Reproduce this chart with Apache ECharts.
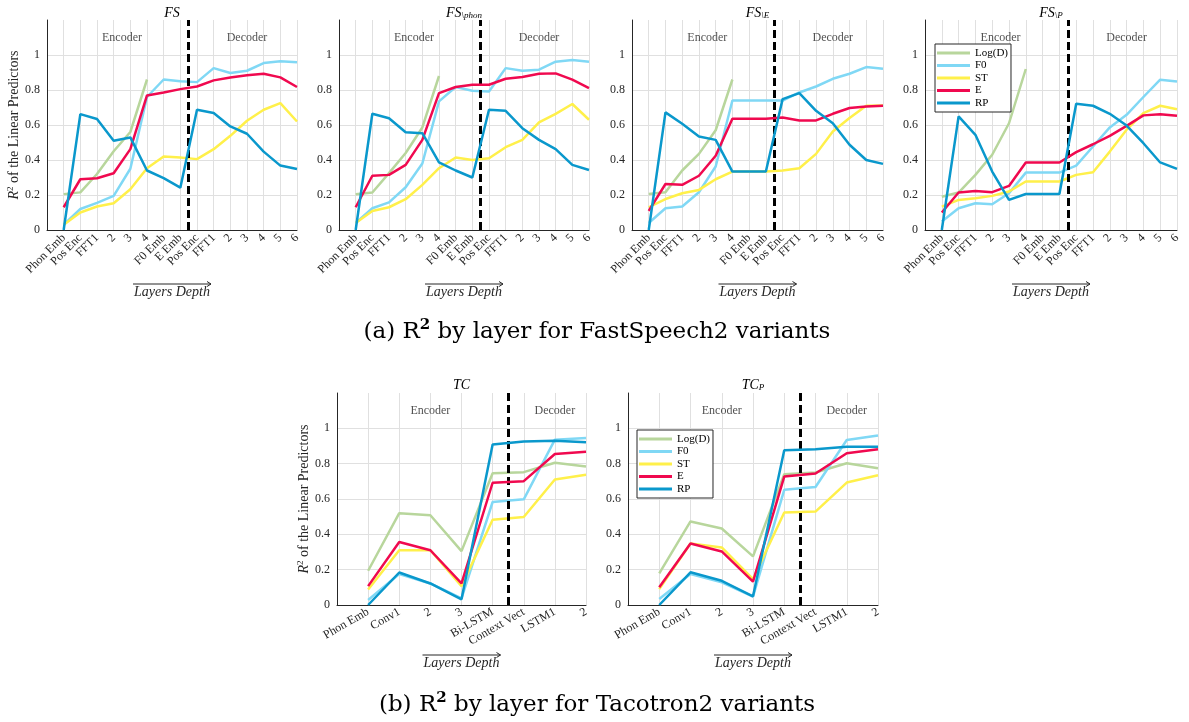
<!DOCTYPE html>
<html>
<head>
<meta charset="utf-8">
<script src="https://cdn.jsdelivr.net/npm/echarts@6/dist/echarts.min.js"></script>
<style>html,body{margin:0;padding:0;background:#fff;}#c{width:1189px;height:722px;}</style>
</head>
<body>
<div id="c"></div>
<script>
// ---------- categories ----------
const FS_CATS = ['Phon Emb','Pos Enc','FFT1','2','3','4','F0 Emb','E Emb','Pos Enc','FFT1','2','3','4','5','6'];
const TC_CATS = ['Phon Emb','Conv1','2','3','Bi-LSTM','Context Vect','LSTM1','2'];
const SERIES_NAMES = ['Log(D)','F0','ST','E','RP'];

// ---------- FS ----------
const FS_LOGD = [0.205,0.215,0.32,0.45,0.56,0.86,null,null,null,null,null,null,null,null,null];
const FS_F0   = [0.03,0.12,0.155,0.195,0.35,0.76,0.86,0.85,0.845,0.925,0.897,0.91,0.954,0.964,0.958];
const FS_ST   = [0.03,0.10,0.134,0.153,0.233,0.353,0.42,0.414,0.405,0.462,0.538,0.624,0.687,0.725,0.62];
const FS_E    = [0.13,0.29,0.296,0.324,0.462,0.769,0.786,0.805,0.82,0.855,0.872,0.884,0.893,0.872,0.817];
const FS_RP   = [0,0.662,0.634,0.51,0.529,0.34,0.296,0.242,0.687,0.668,0.592,0.55,0.448,0.368,0.349];

// ---------- FS \phon ----------
const FSPHON_LOGD = [0.204,0.214,0.325,0.44,0.586,0.88,null,null,null,null,null,null,null,null,null];
const FSPHON_F0   = [0.04,0.124,0.158,0.244,0.38,0.735,0.817,0.796,0.792,0.925,0.91,0.916,0.962,0.971,0.962];
const FSPHON_ST   = [0.04,0.109,0.13,0.176,0.258,0.353,0.414,0.40,0.41,0.473,0.515,0.615,0.664,0.72,0.63];
const FSPHON_E    = [0.13,0.31,0.315,0.372,0.515,0.782,0.817,0.83,0.83,0.864,0.874,0.893,0.895,0.859,0.811];
const FSPHON_RP   = [0,0.664,0.639,0.559,0.553,0.387,0.34,0.30,0.687,0.681,0.582,0.515,0.462,0.372,0.343];

// ---------- FS \E ----------
const FSE_LOGD = [0.206,0.216,0.34,0.435,0.57,0.86,null,null,null,null,null,null,null,null,null];
const FSE_F0   = [0.04,0.124,0.134,0.216,0.363,0.74,0.74,0.74,0.74,0.786,0.82,0.864,0.893,0.931,0.922];
const FSE_ST   = [0.13,0.177,0.21,0.229,0.29,0.334,0.334,0.334,0.34,0.353,0.435,0.563,0.64,0.71,0.712];
const FSE_E    = [0.109,0.263,0.258,0.31,0.424,0.636,0.636,0.636,0.643,0.626,0.626,0.664,0.697,0.706,0.71];
const FSE_RP   = [0,0.672,0.607,0.534,0.515,0.334,0.334,0.334,0.748,0.782,0.681,0.61,0.487,0.40,0.378];

// ---------- FS \P ----------
const FSP_LOGD = [0.19,0.214,0.315,0.43,0.61,0.92,null,null,null,null,null,null,null,null,null];
const FSP_F0   = [0.048,0.124,0.153,0.147,0.21,0.328,0.328,0.328,0.368,0.477,0.586,0.658,0.76,0.859,0.849];
const FSP_ST   = [0.134,0.172,0.181,0.195,0.22,0.277,0.277,0.277,0.315,0.33,0.448,0.573,0.668,0.71,0.69];
const FSP_E    = [0.10,0.214,0.223,0.216,0.252,0.386,0.386,0.386,0.445,0.49,0.538,0.595,0.655,0.662,0.653];
const FSP_RP   = [0,0.649,0.544,0.334,0.172,0.206,0.206,0.206,0.721,0.71,0.664,0.597,0.496,0.386,0.349];

// ---------- TC ----------
const TC_LOGD = [0.194,0.52,0.508,0.305,0.746,0.752,0.805,0.784];
const TC_F0   = [0.028,0.175,0.122,0.038,0.583,0.598,0.936,0.945];
const TC_ST   = [0.088,0.31,0.31,0.107,0.483,0.498,0.71,0.737];
const TC_E    = [0.107,0.357,0.31,0.122,0.692,0.701,0.855,0.868];
const TC_RP   = [0,0.184,0.122,0.032,0.908,0.925,0.93,0.921];

// ---------- TC_P ----------
const TCP_LOGD = [0.179,0.473,0.433,0.275,0.74,0.75,0.802,0.774];
const TCP_F0   = [0.034,0.175,0.128,0.047,0.652,0.668,0.934,0.96];
const TCP_ST   = [0.09,0.348,0.326,0.147,0.524,0.529,0.693,0.734];
const TCP_E    = [0.10,0.348,0.303,0.132,0.727,0.744,0.859,0.881];
const TCP_RP   = [0,0.185,0.137,0.049,0.876,0.881,0.896,0.896];

// ---------- styles / layout ----------
const COLORS = ['#b8d69c','#80d8f5','#fff04a','#f0094f','#0a98cc'];
const SERIF = 'Liberation Serif';
const INK = '#262626';

const panels = [
  {t:'FS', s:'', cats:FS_CATS, data:[FS_LOGD,FS_F0,FS_ST,FS_E,FS_RP], grid:{left:47,top:20,width:250,height:210}, split:7.5, enc:3.5, dec:11, rot:45, yName:true, legend:null, titleTop:2, nameGap:55, arrowY:284},
  {t:'FS', s:'\\phon', cats:FS_CATS, data:[FSPHON_LOGD,FSPHON_F0,FSPHON_ST,FSPHON_E,FSPHON_RP], grid:{left:339,top:20,width:250,height:210}, split:7.5, enc:3.5, dec:11, rot:45, yName:false, legend:null, titleTop:2, nameGap:55, arrowY:284},
  {t:'FS', s:'\\E', cats:FS_CATS, data:[FSE_LOGD,FSE_F0,FSE_ST,FSE_E,FSE_RP], grid:{left:632,top:20,width:251,height:210}, split:7.5, enc:3.5, dec:11, rot:45, yName:false, legend:null, titleTop:2, nameGap:55, arrowY:284},
  {t:'FS', s:'\\P', cats:FS_CATS, data:[FSP_LOGD,FSP_F0,FSP_ST,FSP_E,FSP_RP], grid:{left:925,top:20,width:252,height:210}, split:7.5, enc:3.5, dec:11, rot:45, yName:false, legend:{left:935,top:44}, titleTop:2, nameGap:55, arrowY:284},
  {t:'TC', s:'', cats:TC_CATS, data:[TC_LOGD,TC_F0,TC_ST,TC_E,TC_RP], grid:{left:337,top:393,width:249,height:212}, split:4.5, enc:2, dec:6, rot:30, yName:true, legend:null, titleTop:374, nameGap:51, arrowY:655},
  {t:'TC', s:'P', cats:TC_CATS, data:[TCP_LOGD,TCP_F0,TCP_ST,TCP_E,TCP_RP], grid:{left:628,top:393,width:250,height:212}, split:4.5, enc:2, dec:6, rot:30, yName:false, legend:{left:637,top:430}, titleTop:374, nameGap:51, arrowY:655}
];

const option = {
  animation:false,
  backgroundColor:'#fff',
  grid:[], xAxis:[], yAxis:[], series:[], title:[], legend:[], graphic:[]
};

panels.forEach((p, i) => {
  option.grid.push(Object.assign({containLabel:false}, p.grid));
  const cx = p.grid.left + p.grid.width / 2;
  option.xAxis.push({
    gridIndex:i, type:'value', min:-1, max:p.cats.length - 1, interval:1,
    axisLine:{show:true, onZero:false, lineStyle:{color:INK, width:1}},
    axisTick:{show:false},
    axisLabel:{
      formatter:(v) => { const k = Math.round(v); return k >= 0 && k < p.cats.length ? p.cats[k] : ''; },
      rotate:p.rot, fontFamily:SERIF, fontSize:12, color:INK, margin:6
    },
    splitLine:{show:true, lineStyle:{color:'#e0e0e0', width:1}},
    name:'Layers Depth', nameLocation:'middle', nameGap:p.nameGap,
    nameTextStyle:{fontFamily:SERIF, fontStyle:'italic', fontSize:14, color:INK}
  });
  option.yAxis.push({
    gridIndex:i, type:'value', min:0, max:1.2, interval:0.2,
    axisLine:{show:true, onZero:false, lineStyle:{color:INK, width:1}},
    axisTick:{show:false},
    axisLabel:{
      formatter:(v) => v > 1.05 ? '' : String(+v.toFixed(1)),
      fontFamily:SERIF, fontSize:12, color:INK, margin:7
    },
    splitLine:{show:true, showMaxLine:false, lineStyle:{color:'#e0e0e0', width:1}},
    name: p.yName ? '{i|R}{s|2} of the Linear Predictors' : '',
    nameLocation:'middle', nameGap:22, nameRotate:90,
    nameTextStyle:{fontFamily:SERIF, fontSize:14, color:INK,
      rich:{i:{fontFamily:SERIF, fontStyle:'italic', fontSize:14, color:INK, lineHeight:16},
            s:{fontFamily:SERIF, fontSize:9, color:INK, verticalAlign:'top', lineHeight:16}}}
  });
  p.data.forEach((arr, k) => {
    option.series.push({
      type:'line', name:SERIES_NAMES[k], xAxisIndex:i, yAxisIndex:i,
      data:arr.map((v, j) => [j, v]).filter(d => d[1] !== null),
      showSymbol:false, symbol:'none',
      lineStyle:{width:2.5, color:COLORS[k]},
      itemStyle:{color:COLORS[k]},
      z:2 + k
    });
  });
  option.series.push({
    type:'scatter', name:'_ann' + i, xAxisIndex:i, yAxisIndex:i, silent:true,
    symbolSize:1, itemStyle:{color:'rgba(0,0,0,0)'},
    data:[[p.enc, 1.1, 'Encoder'], [p.dec, 1.1, 'Decoder']],
    label:{show:true, position:'inside', formatter:(q) => q.data[2], fontFamily:SERIF, fontSize:12, color:INK},
    markLine:{silent:true, symbol:['none','none'], label:{show:false},
      lineStyle:{type:[8,4], width:3, color:'#000'},
      data:[{xAxis:p.split}]},
    z:10
  });
  option.title.push({
    text: p.s ? '{m|' + p.t + '}{s|' + p.s + '}' : '{m|' + p.t + '}',
    left:cx, top:p.titleTop, textAlign:'center', padding:0,
    textStyle:{fontWeight:'normal', rich:{
      m:{fontFamily:SERIF, fontStyle:'italic', fontWeight:'normal', fontSize:14, color:'#000', lineHeight:18, verticalAlign:'bottom'},
      s:{fontFamily:SERIF, fontStyle:'italic', fontWeight:'normal', fontSize:9, color:'#000', lineHeight:12, verticalAlign:'bottom'}
    }}
  });
  if (p.legend) {
    option.legend.push({
      show:true, orient:'vertical', left:p.legend.left, top:p.legend.top,
      data:SERIES_NAMES, icon:'rect', itemWidth:33, itemHeight:3, itemGap:0.5,
      padding:[3,3,3,2], borderColor:INK, borderWidth:1, backgroundColor:'#fff',
      selectedMode:false,
      textStyle:{fontFamily:SERIF, fontSize:11, color:'#000', lineHeight:12}, z:20
    });
  }
  const ax = cx, ay = p.arrowY;
  option.graphic.push({
    type:'group', children:[
      {type:'line', shape:{x1:ax - 39, y1:ay, x2:ax + 39, y2:ay}, style:{stroke:INK, lineWidth:1}},
      {type:'polyline', shape:{points:[[ax + 35, ay - 2.5],[ax + 39, ay],[ax + 35, ay + 2.5]]}, style:{stroke:INK, lineWidth:1, fill:null}}
    ]
  });
});

const CAPTION_STYLE = {fontFamily:'DejaVu Serif', fontSize:23, fontWeight:'normal', color:'#000', lineHeight:28,
  rich:{b:{fontFamily:'DejaVu Serif', fontSize:15, fontWeight:'bold', color:'#000', verticalAlign:'top', lineHeight:26}}};
option.title.push({text:'(a) R{b|2} by layer for FastSpeech2 variants', left:592, top:313, textAlign:'center', textStyle:CAPTION_STYLE});
option.title.push({text:'(b) R{b|2} by layer for Tacotron2 variants', left:592, top:686, textAlign:'center', textStyle:CAPTION_STYLE});

const chart = echarts.init(document.getElementById('c'), null, {renderer:'canvas'});
chart.setOption(option);
</script>
</body>
</html>
